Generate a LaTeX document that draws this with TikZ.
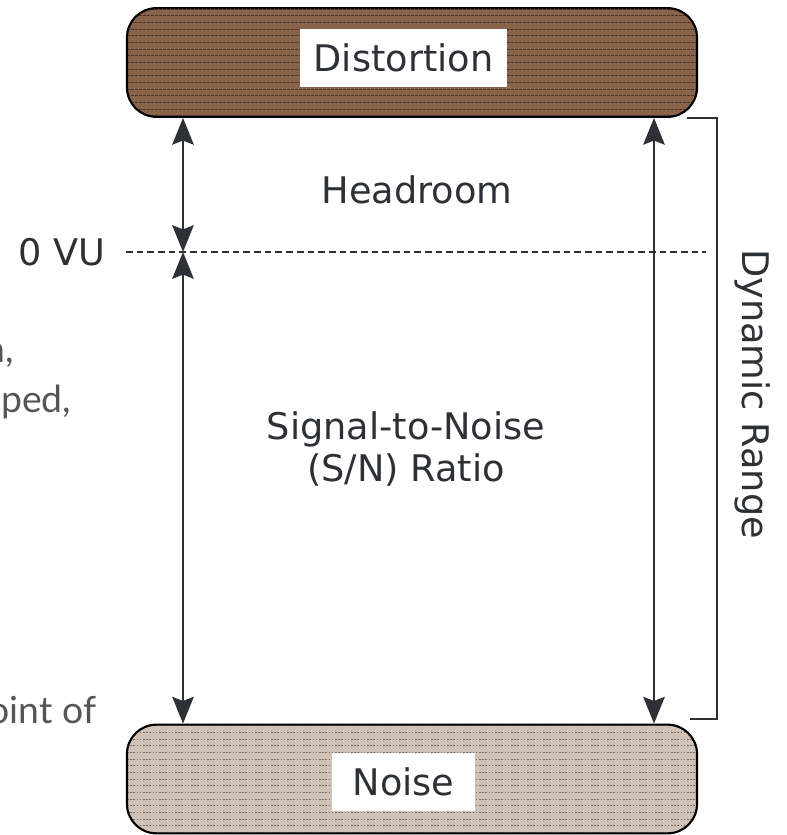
\documentclass[tikz,border=0pt]{standalone}
\usepackage{fontspec}
\setmainfont{DejaVu Sans}
\newfontfamily\latofont{Lato}
\usetikzlibrary{arrows.meta}

\definecolor{distbrown}{RGB}{138,100,74}
\definecolor{distline}{RGB}{72,52,40}
\definecolor{noisetan}{RGB}{208,194,182}
\definecolor{noiseline}{RGB}{118,108,102}
\definecolor{ink}{RGB}{45,48,52}
\definecolor{bodygrey}{RGB}{85,85,85}

\begin{document}
\begin{tikzpicture}[x=0.75pt,y=-0.75pt,
    every node/.style={font=\fontsize{27.5}{31.5}\selectfont, text=ink},
    levelbox/.style={draw=black, line width=1.6pt, rounded corners=22pt,
      minimum width=427.5pt, minimum height=81.5pt, inner sep=0pt},
    tag/.style={fill=white, inner sep=0pt, minimum height=43.5pt},
    dimarrow/.style={{Stealth[length=20pt,width=16pt,inset=3pt]}-{Stealth[length=20pt,width=16pt,inset=3pt]},
      draw=ink, line width=2pt},
    bracket/.style={draw=ink, line width=1.9pt},
    bodytext/.style={font=\latofont\fontsize{28}{34}\selectfont, text=bodygrey, anchor=base east}]
  \useasboundingbox (0,0) rectangle (786,835);

  % clipped lines of the surrounding text
  \node[bodytext] (txta) at (19,362) {n,};
  \node[bodytext] (txtb) at (76,412) {ped,};
  \node[bodytext] (txtc) at (101,723) {oint of};

  % the two level bands
  \node[levelbox, fill=distbrown, path picture={
      \foreach \k in {-40,-35,...,40}
        \draw[distline, line width=0.8pt, dash pattern=on 2pt off 1pt]
          ([yshift=\k pt]path picture bounding box.west) -- ([yshift=\k pt]path picture bounding box.east);
    }] (dist) at (412,62.5) {};
  \node[tag, minimum width=155pt] (distlabel) at (403.5,58) {Distortion};

  \node[levelbox, fill=noisetan, path picture={
      \foreach \k in {-40,-35,...,40}
        \draw[noiseline, line width=0.7pt, dash pattern=on 1.2pt off 1.2pt]
          ([yshift=\k pt]path picture bounding box.west) -- ([yshift=\k pt]path picture bounding box.east);
    }] (noise) at (412,779) {};
  \node[tag, minimum width=107pt] (noiselabel) at (403.5,781.5) {Noise};

  % reference level
  \node (vu) at (62,252) {0 VU};
  \coordinate (vuend) at (706,252);
  \draw[ink, line width=2pt, dash pattern=on 5pt off 3pt] ([xshift=12pt]vu.east) -- (vuend);

  \coordinate (lefta) at (183,400);
  \coordinate (righta) at (654,400);
  \draw[dimarrow] (dist.south -| lefta) -- (lefta |- vu);
  \draw[dimarrow] (lefta |- vu) -- (noise.north -| lefta);
  \draw[dimarrow] (dist.south -| righta) -- (noise.north -| righta);

  \node (head) at (417,190) {Headroom};
  \node[align=center] (snr) at (406,449) {Signal-to-Noise\\(S/N) Ratio};

  % dynamic range bracket
  \coordinate (brtop) at (687,118);
  \coordinate (brbot) at (690,719);
  \draw[bracket] (brtop) -- ++(30,0) |- (brbot);
  \node[rotate=-90] (dyn) at (753,394) {Dynamic Range};
\end{tikzpicture}
\end{document}
